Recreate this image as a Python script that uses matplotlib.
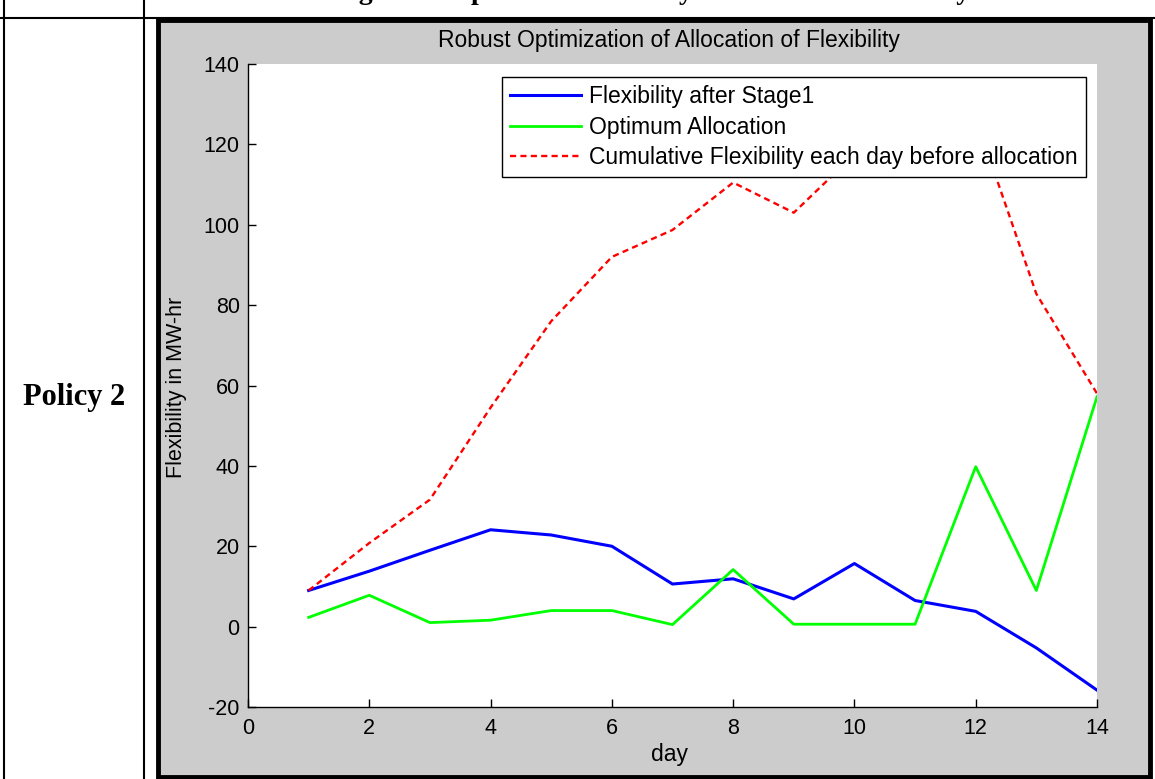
import matplotlib
matplotlib.use("Agg")
import matplotlib.pyplot as plt
from matplotlib.patches import Rectangle
from matplotlib.lines import Line2D

plt.rcParams["axes.unicode_minus"] = False

# ---- data ----
days = [1, 2, 3, 4, 5, 6, 7, 8, 9, 10, 11, 12, 13, 14]
flex_after_stage1 = [9.0, 13.8, 19.0, 24.1, 22.8, 20.0, 10.6, 11.9, 6.9, 15.7, 6.5, 3.8, -5.3, -15.8]
optimum_allocation = [2.3, 7.8, 1.0, 1.6, 4.0, 4.0, 0.5, 14.2, 0.6, 0.6, 0.6, 39.8, 9.0, 57.2]
cumulative_flex = [9.0, 20.8, 31.6, 54.5, 76.0, 92.0, 98.7, 110.5, 103.0, 117.5, 123.5, 126.5, 82.8, 58.0]

labels = ["Flexibility after Stage1", "Optimum Allocation",
          "Cumulative Flexibility each day before allocation"]
title = "Robust Optimization of Allocation of Flexibility"
xlabel = "day"
ylabel = "Flexibility in MW-hr"
xticks = [0, 2, 4, 6, 8, 10, 12, 14]
yticks = [-20, 0, 20, 40, 60, 80, 100, 120, 140]
row_label = "Policy 2"
caption = "Figure 8: Optimum Flexibility vs Allocated Flexibility"

W, H = 1155, 779
fig = plt.figure(figsize=(W / 100, H / 100), dpi=100)
fig.patch.set_facecolor("white")

def fx(px):
    return px / W

def fy(py):
    return 1 - py / H

# table lines
fig.add_artist(Line2D([fx(4), fx(4)], [0, 1], color="black", lw=1.5, transform=fig.transFigure))
fig.add_artist(Line2D([fx(144), fx(144)], [0, 1], color="black", lw=1.5, transform=fig.transFigure))
fig.add_artist(Line2D([0, 1], [fy(18), fy(18)], color="black", lw=1.5, transform=fig.transFigure))

# caption of the table row above (cut off at the top edge, as in the source)
fig.text(fx(652), fy(-1), caption, ha="center", va="baseline",
         fontsize=20, fontweight="bold", family="Liberation Serif")

# row label
fig.text(fx(74), fy(397), row_label, ha="center", va="center",
         fontsize=22, fontweight="bold", family="Liberation Serif")

# gray matlab panel
panel = Rectangle((fx(158), fy(777)), fx(1150 - 158), (777 - 20) / H,
                  transform=fig.transFigure, facecolor="#cccccc",
                  edgecolor="black", lw=3.5, zorder=0)
fig.add_artist(panel)

ax_l, ax_r, ax_t, ax_b = 248, 1097, 64, 707
ax = fig.add_axes([fx(ax_l), fy(ax_b), fx(ax_r - ax_l), (ax_b - ax_t) / H])
ax.set_facecolor("white")

ax.plot(days, flex_after_stage1, color="#0000ff", lw=2.2, label=labels[0])
ax.plot(days, optimum_allocation, color="#00ff00", lw=2.0, label=labels[1])
ax.plot(days, cumulative_flex, color="#ff0000", lw=1.7, linestyle=(0, (2.6, 1.8)), label=labels[2])

ax.set_xlim(0, 14)
ax.set_ylim(-20, 140)
ax.set_xticks(xticks)
ax.set_yticks(yticks)
ax.spines["top"].set_visible(False)
ax.spines["right"].set_visible(False)
for s in ("left", "bottom"):
    ax.spines[s].set_linewidth(1.0)
ax.tick_params(direction="in", length=6, width=1, labelsize=15.5)
ax.tick_params(axis="x", pad=8)
ax.tick_params(axis="y", pad=6)
for lab in ax.get_xticklabels() + ax.get_yticklabels():
    lab.set_family("Liberation Sans")

fs = 16.5
fig.text(fx(669), fy(40), title, ha="center", va="center", fontsize=fs, family="Liberation Sans")
fig.text(fx(669), fy(755), xlabel, ha="center", va="center", fontsize=fs, family="Liberation Sans")
fig.text(fx(176), fy(387), ylabel, ha="center", va="center", rotation=90, fontsize=15.5, family="Liberation Sans")

leg = ax.legend(loc="upper right", bbox_to_anchor=(fx(1086), fy(77)),
                bbox_transform=fig.transFigure, borderaxespad=0,
                fancybox=False, framealpha=1, edgecolor="black",
                prop={"family": "Liberation Sans", "size": fs},
                handlelength=3.1, handletextpad=0.35, labelspacing=0.33, borderpad=0.35)
leg.get_frame().set_linewidth(1.0)

fig.savefig("out.png", dpi=100, facecolor="white")
